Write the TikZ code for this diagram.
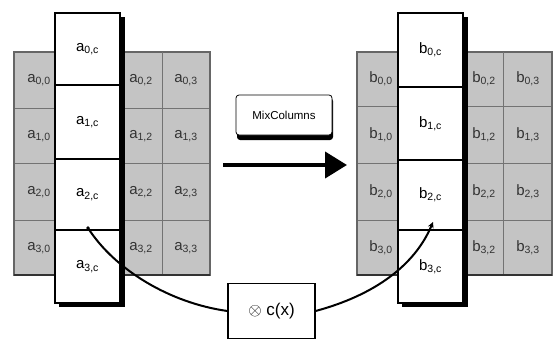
\documentclass[tikz,border=0pt]{standalone}
\usepackage{fontspec}
\setmainfont{Liberation Sans}
\usetikzlibrary{arrows.meta}
\begin{document}
\begin{tikzpicture}[x=1pt,y=-1pt,
  wcell/.style={fill=white,draw=black,line width=1.2pt,inner sep=0pt,
    minimum width=65pt,font=\fontsize{15}{17}\selectfont},
  lab/.style={inner sep=0pt,font=\fontsize{15}{17}\selectfont,text=black!80},
  gline/.style={black!55,line width=0.8pt},
  conn/.style={line width=2pt,black}]
\useasboundingbox (0,0) rectangle (553,342);
% ---------- left grid
\fill[gray!46] (14,52) rectangle (210,275);
\foreach \yb in {108,163,220}{\draw[gline] (14,\yb) -- (210,\yb);}
\draw[black!60,line width=1.2pt] (14,52) rectangle (210,275);
\draw[gline] (162,52) -- (162,275);
\draw[black!80,line width=2pt] (14,275) -- (210,275);
\node[lab] (a00) at (39,80) {a\textsubscript{0,0}};
\node[lab] (a10) at (39,136) {a\textsubscript{1,0}};
\node[lab] (a20) at (39,192) {a\textsubscript{2,0}};
\node[lab] (a30) at (39,248) {a\textsubscript{3,0}};
\node[lab] (a02) at (141,80) {a\textsubscript{0,2}};
\node[lab] (a12) at (141,136) {a\textsubscript{1,2}};
\node[lab] (a22) at (141,192) {a\textsubscript{2,2}};
\node[lab] (a32) at (141,248) {a\textsubscript{3,2}};
\node[lab] (a03) at (186,80) {a\textsubscript{0,3}};
\node[lab] (a13) at (186,136) {a\textsubscript{1,3}};
\node[lab] (a23) at (186,192) {a\textsubscript{2,3}};
\node[lab] (a33) at (186,248) {a\textsubscript{3,3}};
% left white column
\fill[black] (59,17) rectangle (125,307);
\node[wcell,minimum height=72pt] (a0c) at (87.5,49) {a\textsubscript{0,c}};
\node[wcell,minimum height=74pt] (a1c) at (87.5,122) {a\textsubscript{1,c}};
\node[wcell,minimum height=71pt] (a2c) at (87.5,194.5) {a\textsubscript{2,c}};
\node[wcell,minimum height=73pt] (a3c) at (87.5,266.5) {a\textsubscript{3,c}};
% ---------- right grid
\fill[gray!46] (357,52) rectangle (552,275);
\foreach \yb in {106,163,220}{\draw[gline] (357,\yb) -- (552,\yb);}
\draw[black!60,line width=1.2pt] (357,52) rectangle (552,275);
\draw[gline] (503,52) -- (503,275);
\draw[black!80,line width=2pt] (357,275) -- (552,275);
\node[lab] (b00) at (381,79) {b\textsubscript{0,0}};
\node[lab] (b10) at (381,135) {b\textsubscript{1,0}};
\node[lab] (b20) at (381,192) {b\textsubscript{2,0}};
\node[lab] (b30) at (381,248) {b\textsubscript{3,0}};
\node[lab] (b02) at (484,79) {b\textsubscript{0,2}};
\node[lab] (b12) at (484,135) {b\textsubscript{1,2}};
\node[lab] (b22) at (484,192) {b\textsubscript{2,2}};
\node[lab] (b32) at (484,248) {b\textsubscript{3,2}};
\node[lab] (b03) at (528,79) {b\textsubscript{0,3}};
\node[lab] (b13) at (528,135) {b\textsubscript{1,3}};
\node[lab] (b23) at (528,192) {b\textsubscript{2,3}};
\node[lab] (b33) at (528,248) {b\textsubscript{3,3}};
% right white column
\fill[black] (402,17) rectangle (468,307);
\node[wcell,minimum height=74pt] (b0c) at (430.5,50) {b\textsubscript{0,c}};
\node[wcell,minimum height=73pt] (b1c) at (430.5,123.5) {b\textsubscript{1,c}};
\node[wcell,minimum height=70pt] (b2c) at (430.5,195) {b\textsubscript{2,c}};
\node[wcell,minimum height=73pt] (b3c) at (430.5,266.5) {b\textsubscript{3,c}};
% ---------- MixColumns label and arrow
\fill[black,rounded corners=3pt] (237,98) rectangle (333,140);
\node[fill=white,draw=black,line width=0.8pt,rounded corners=3pt,
  minimum width=96pt,minimum height=40pt,inner sep=0pt,
  font=\fontsize{11.5}{13}\selectfont] (mix) at (284,115) {MixColumns};
\coordinate (arrS) at (223,165);
\coordinate (arrE) at (347,165);
\draw[line width=4pt,-{Triangle[length=22pt,width=26pt]}] (arrS) -- (arrE);
% ---------- c(x) box and connector
\node[fill=white,draw=black,line width=1.2pt,minimum width=87pt,
  minimum height=55pt,inner sep=0pt,font=\fontsize{17}{19}\selectfont]
  (cx) at (271.5,311) {$\otimes$ c(x)};
\coordinate (cs) at (88,228);
\coordinate (ce) at (433,222);
\fill (cs) circle (1.8pt);
\draw[conn] (cs) .. controls (115,270) and (170,303) .. (cx.west);
\draw[conn,-{Stealth[length=6pt,width=6pt]}] (cx.east) .. controls (375,295) and (415,265) .. (ce);
\end{tikzpicture}
\end{document}
